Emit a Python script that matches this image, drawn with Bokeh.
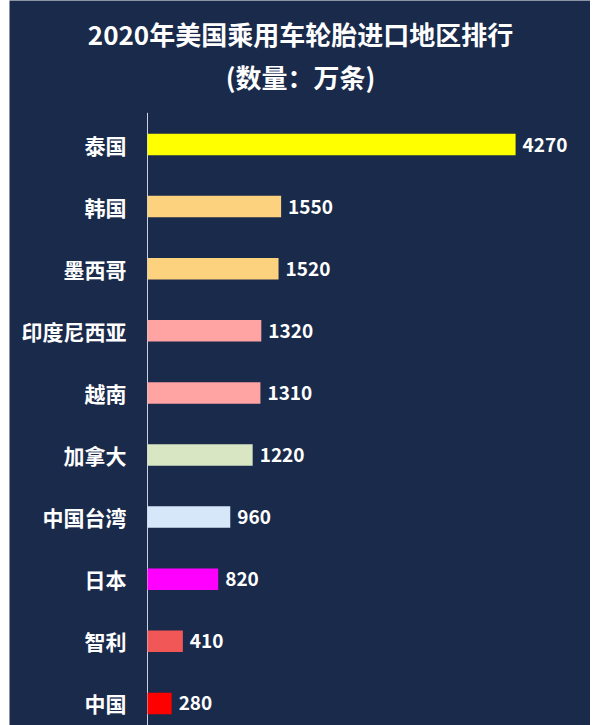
from bokeh.plotting import figure
from bokeh.layouts import row
from bokeh.models import Range1d, Label, ColumnDataSource, Spacer
from bokeh.core.properties import value
from bokeh.embed import file_html
from bokeh.resources import INLINE

title_line1 = "2020年美国乘用车轮胎进口地区排行"
title_line2 = "(数量：万条)"
regions = ["泰国", "韩国", "墨西哥", "印度尼西亚", "越南", "加拿大", "中国台湾", "日本", "智利", "中国"]
counts = [4270, 1550, 1520, 1320, 1310, 1220, 960, 820, 410, 280]
bar_colors = ["#FFFF00", "#FCD27E", "#FCD27E", "#FFA3A3", "#FFA3A3", "#D9E6C4",
              "#D6E7FA", "#FF00FF", "#F25757", "#FF0000"]

FONT = "Noto Sans CJK SC"
BG = "#1A2A4B"

pos = list(range(len(regions)))
src = ColumnDataSource(dict(y=pos, v=counts, c=bar_colors, r=regions,
                            t=[str(v) for v in counts], z=[0] * len(counts)))

# whole canvas is the frame: x=0 sits at the axis line, rows are 62 px apart
p = figure(width=581, height=725, output_backend="svg", toolbar_location=None,
           x_range=Range1d(-1601, 5139), y_range=Range1d(9.356, -2.319),
           min_border=0)
p.background_fill_color = BG
p.border_fill_color = BG
p.outline_line_color = None
p.grid.visible = False
p.axis.visible = False

# axis line
p.segment(x0=0, y0=-0.51, x1=0, y1=9.356, line_color="#C8D2E0", line_width=1)

p.hbar(y="y", right="v", left=0, height=0.346, color="c", line_color=None, source=src)
p.text(x="v", y="y", text="t", x_offset=7, text_align="left", text_baseline="middle",
       text_color="white", text_font=value(FONT), text_font_style="bold",
       text_font_size="19px", source=src)
p.text(x="z", y="y", text="r", x_offset=-21, text_align="right", text_baseline="middle",
       text_color="white", text_font=value(FONT), text_font_style="bold",
       text_font_size="21px", source=src)

for txt, ty in ((title_line1, 33), (title_line2, 76)):
    p.add_layout(Label(x=291, y=ty, x_units="canvas", y_units="canvas", text=txt,
                       text_align="center", text_baseline="middle", text_color="white",
                       text_font=FONT, text_font_style="bold", text_font_size="26px"))

layout = row(Spacer(width=9, height=725), p)
open("out.html", "w").write(file_html(layout, INLINE))
